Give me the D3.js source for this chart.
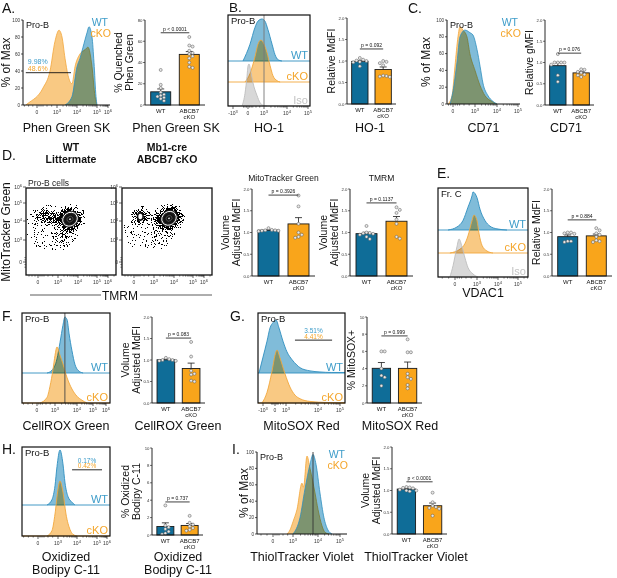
<!DOCTYPE html>
<html>
<head>
<meta charset="utf-8">
<script src="https://cdn.jsdelivr.net/npm/d3@7/dist/d3.min.js"></script>
<style>
  body { margin: 0; background: #fff; }
  svg { font-family: "Liberation Sans", Arial, sans-serif; display: block; }
</style>
</head>
<body>
<svg id="fig" width="617" height="578"></svg>
<script>
// ---- values ----
var groups = ["WT", "ABCB7 cKO"];

// flow histograms, [channel, % of max]; channel 0 = "0", 3 = 10^3, 4 = 10^4 ...
var phenWT = [[3.4,0],[3.75,10],[4.0,45],[4.15,55],[4.3,68],[4.5,85],[4.6,92],[4.75,80],[4.85,50],[4.95,10],[5.0,0]];
var phenKO = [[-0.8,0],[-0.64,2],[0.9,20],[1.95,40],[2.7,75],[3.1,88],[3.25,80],[3.4,55],[3.55,35],[3.75,25],[3.9,45],[4.15,60],[4.4,65],[4.55,68],[4.75,45],[4.9,10],[5.0,0]];
var phenGate = [-0.8, 3.7, 38];
var phenPct = ["9.98%", "48.6%"];

var hoWT  = [[-1.0,0],[0.375,40],[1.31,80],[1.875,95],[2.625,100],[3.04,95],[3.17,75],[3.35,40],[3.48,15],[3.61,3],[3.78,0]];
var hoKO  = [[-0.6,0],[0.375,20],[1.31,60],[1.875,90],[2.44,100],[3.0,90],[3.13,70],[3.26,40],[3.39,15],[3.57,3],[3.7,0]];
var hoIso = [[-1.2,0],[-0.6,30],[-0.2,70],[0,95],[0.19,100],[0.56,80],[0.94,55],[1.69,25],[2.25,8],[2.81,2],[3.13,0]];

var cd71WT = [[-0.4,0],[0,15],[0.55,50],[0.95,80],[1.64,88],[2.3,85],[2.73,82],[3.09,65],[3.23,45],[3.36,25],[3.59,10],[3.82,3],[4.0,0]];
var cd71KO = [[-0.67,0],[-0.13,10],[0.27,45],[0.68,80],[0.95,92],[1.36,88],[1.9,80],[2.3,60],[3.0,40],[3.23,22],[3.45,10],[3.77,3],[4.0,0]];

var vdacWT  = [[-0.33,0],[0.27,8],[1.09,25],[1.77,60],[2.32,90],[2.45,100],[3.0,85],[3.14,55],[3.38,25],[3.62,10],[3.95,3],[4.45,0]];
var vdacKO  = [[-0.24,0],[0.68,10],[1.36,25],[1.77,45],[2.32,85],[2.59,100],[3.0,85],[3.1,50],[3.24,20],[3.48,5],[3.76,0]];
var vdacIso = [[-0.24,0],[-0.09,30],[0.27,80],[0.55,100],[0.95,80],[1.36,50],[1.77,25],[2.45,8],[3.05,0]];

var roxWT = [[1.67,0],[2.5,5],[3.09,25],[3.23,55],[3.36,85],[3.45,100],[3.55,95],[3.64,70],[3.77,40],[3.91,15],[4.06,5],[4.38,0]];
var roxKO = [[0.5,0],[1.67,10],[2.17,30],[2.67,60],[3.0,85],[3.09,100],[3.23,85],[3.36,70],[3.55,45],[3.77,25],[4.0,12],[4.31,5],[4.63,0]];

var soxWT = [[-3.4,0],[-3,30],[-2,60],[-1.25,85],[-0.5,95],[0.27,100],[1.09,85],[2.18,60],[3.03,40],[3.19,25],[3.34,15],[3.44,10],[3.75,4],[4.09,2],[4.6,1],[5.2,1]];
var soxKO = [[-3.1,0],[-2,20],[-0.75,60],[0,90],[0.55,100],[1.36,85],[2.73,55],[3.125,30],[3.28,15],[3.44,8],[3.75,3],[4.41,1],[5.2,0.5]];
var soxGate = [3.28, 4.64, 62];
var soxPct = ["3.51%", "4.41%"];

var bodWT = [[1.35,0],[2.1,10],[2.55,35],[2.85,70],[3.105,100],[3.26,75],[3.37,40],[3.53,15],[3.74,5],[3.89,0]];
var bodKO = [[1.35,0],[2.1,10],[2.55,40],[3.0,85],[3.105,100],[3.26,80],[3.42,40],[3.63,12],[3.79,3],[4.0,0]];
var bodGate = [3.74, 5.5, 64];
var bodPct = ["0.17%", "0.42%"];

var thiolWT = [[3.0,0],[3.28,20],[3.48,55],[3.68,85],[3.8,97],[3.92,85],[4.09,50],[4.27,20],[4.45,5],[4.64,0]];
var thiolKO = [[2.1,0],[2.55,5],[3.0,15],[3.16,30],[3.36,62],[3.42,57],[3.56,95],[3.68,80],[3.88,50],[4.0,30],[4.18,10],[4.32,2],[4.5,0]];

// MitoTracker Green vs TMRM event clouds: [x, y, rx, ry, angle, density] in channel units
var mtgWTPops = [[1.0,4.25,1.5,0.4,0,0.6],[2.5,4.2,1.3,0.32,0,0.45],[3.6,4.1,0.7,0.65,-35,0.95],[3.2,3.2,0.55,0.9,0,0.3],[2.2,3.6,2.4,1.5,0,0.18]];
var mtgKOPops = [[0.95,4.25,1.1,0.45,0,0.75],[2.5,4.2,1.3,0.32,0,0.4],[3.75,4.15,0.7,0.65,-35,0.95],[3.3,3.3,0.55,0.9,0,0.25],[2.2,3.6,2.4,1.5,0,0.15]];
var mtgWTCore = [3.6, 4.1, 0.45, 0.42, -35];
var mtgKOCore = [3.75, 4.15, 0.45, 0.42, -35];
var mtgKOBlob = [0.95, 4.25, 0.42, 0.2];

// per-mouse values for the bar charts
var quenchWT = [33,19,16,12,10,9,8,7,6,4];
var quenchKO = [64,56,55,51,49,48,46,44,40,36,35];
var hoMfiWT = [1.07,1.03,1.01,1.0,0.98,0.97,0.88];
var hoMfiKO = [1.0,0.98,0.95,0.9,0.65,0.63,0.64,0.66];
var cd71MfiWT = [1.2,1.0,1.0,1.0,1.0,0.95,0.7,0.55];
var cd71MfiKO = [0.84,0.83,0.78,0.76,0.72,0.7,0.66];
var mtgWT = [1.1,1.06,1.05,1.05,1.04,1.04,1.03];
var mtgKO = [1.85,1.6,1.2,1.0,0.95,0.9,0.88];
var tmrmWT = [1.15,1.0,0.99,0.98,0.97,0.95,0.9,0.85];
var tmrmKO = [1.58,1.52,1.45,1.3,1.2,0.9,0.86];
var vdacMfiWT = [1.0,1.0,0.98,0.97,0.8,0.78,0.8];
var vdacMfiKO = [1.1,1.05,0.98,0.95,0.9,0.8,0.78,0.82];
var roxMfiWT = [1.05,1.02,1.0,1.0,0.98,0.98];
var roxMfiKO = [1.42,1.08,0.75,0.68,0.66,0.52,0.5];
var soxPosWT = [6.0,6.0,4.0,3.2,3.0,2.0];
var soxPosKO = [7.4,5.9,5.9,3.4,3.0,2.8,2.1,1.7];
var bodPosWT = [3.4,1.1,0.9,0.7,0.4,0.2,0.1];
var bodPosKO = [2.2,1.4,1.2,1.0,0.8,0.6,0.5];
var thiolMfiWT = [1.08,1.07,1.06,1.05,1.02,1.0,1.0,0.98];
var thiolMfiKO = [0.95,0.73,0.65,0.62,0.6,0.58,0.42];

var pValues = ["p < 0.0001","p = 0.092","p = 0.076","p = 0.3926","p = 0.1137","p = 0.884","p = 0.083","p = 0.999","p = 0.737","p < 0.0001"];

// ---- drawing ----
var C = {
  wtBar: "#0f6d98", koBar: "#f9a51b",
  wtFill: "#80bcd9", wtLine: "#2f8fbf", wtText: "#3d9cc9",
  koFill: "#f9c983", koLine: "#f2a73c", koText: "#f4a52a",
  isoFill: "#d8d8d8", isoLine: "#bdbdbd", isoText: "#c4c4c4"
};

var svg = d3.select("#fig");
var defs = svg.append("defs");

function text(g, x, y, s, size, o) {
  o = o || {};
  var t = g.append("text").attr("x", x).attr("y", y).attr("font-size", size)
    .attr("text-anchor", o.anchor || "start").attr("fill", o.fill || "#111").text(s);
  if (o.bold) t.attr("font-weight", "bold");
  if (o.rotate) t.attr("transform", "rotate(-90," + x + "," + y + ")");
  return t;
}

function flowLabel(t, v) {
  if (v === 0) { t.text("0"); return; }
  t.append("tspan").text((v < 0 ? "-" : "") + "10");
  t.append("tspan").attr("dy", -2).attr("font-size", "0.8em").text(Math.abs(v));
}

// biexponential-looking axis: majors + minor ticks
function flowXAxis(g, x, y0, majors) {
  var dom = x.domain(), lo = dom[0], hi = dom[dom.length - 1];
  var minors = [];
  majors.forEach(function (v) {
    if (v >= 3) for (var k = 2; k < 10; k++) { var m = v + Math.log10(k); if (m < hi) minors.push(m); }
  });
  [-0.9, -0.6, -0.3, 0.3, 0.6, 0.9, 1.5, 2.2].forEach(function (m) { if (m > lo) minors.push(m); });
  g.selectAll(null).data(minors).enter().append("line")
    .attr("x1", function (d) { return x(d); }).attr("x2", function (d) { return x(d); })
    .attr("y1", y0).attr("y2", y0 + 1.6).attr("stroke", "#222").attr("stroke-width", 0.6);
  g.selectAll(null).data(majors).enter().append("line")
    .attr("x1", function (d) { return x(d); }).attr("x2", function (d) { return x(d); })
    .attr("y1", y0).attr("y2", y0 + 3).attr("stroke", "#222").attr("stroke-width", 0.7);
  majors.forEach(function (v) {
    var t = g.append("text").attr("x", x(v)).attr("y", y0 + 9).attr("font-size", 5)
      .attr("text-anchor", "middle").attr("fill", "#333");
    flowLabel(t, v);
  });
}

function overlayHist(o) {
  var g = svg.append("g");
  var x = d3.scaleLinear().domain(o.xd).range(o.xr);
  var y = d3.scaleLinear().domain([0, 100]).range([o.bottom, o.top]);
  o.curves.forEach(function (c) {
    g.append("path").datum(c.data)
      .attr("d", d3.area().x(function (d) { return x(d[0]); }).y0(y(0)).y1(function (d) { return y(d[1]); }).curve(d3.curveMonotoneX))
      .attr("fill", c.fill).style("mix-blend-mode", "multiply");
    g.append("path").datum(c.data)
      .attr("d", d3.line().x(function (d) { return x(d[0]); }).y(function (d) { return y(d[1]); }).curve(d3.curveMonotoneX))
      .attr("fill", "none").attr("stroke", c.line).attr("stroke-width", 0.8);
  });
  if (o.vline !== undefined)
    g.append("line").attr("x1", x(o.vline)).attr("x2", x(o.vline)).attr("y1", o.top).attr("y2", o.bottom)
      .attr("stroke", "#333").attr("stroke-width", 0.9);
  if (o.gate) {
    g.append("line").attr("x1", x(o.gate[0])).attr("x2", x(o.gate[1])).attr("y1", y(o.gate[2])).attr("y2", y(o.gate[2]))
      .attr("stroke", "#111").attr("stroke-width", 0.9);
    text(g, x(o.gate[0]) + 2, y(o.gate[2]) - 9, o.pct[0], 7, { fill: C.wtText });
    text(g, x(o.gate[0]) + 2, y(o.gate[2]) - 2, o.pct[1], 7, { fill: C.koText });
  }
  g.append("line").attr("x1", o.left).attr("x2", o.left).attr("y1", o.top).attr("y2", o.bottom).attr("stroke", "#111").attr("stroke-width", 1);
  g.append("line").attr("x1", o.left).attr("x2", o.right).attr("y1", o.bottom).attr("y2", o.bottom).attr("stroke", "#111").attr("stroke-width", 1);
  [0, 20, 40, 60, 80, 100].forEach(function (v) {
    g.append("line").attr("x1", o.left - 2).attr("x2", o.left).attr("y1", y(v)).attr("y2", y(v)).attr("stroke", "#111").attr("stroke-width", 0.7);
    text(g, o.left - 3, y(v) + 1.6, v, 4.6, { anchor: "end", fill: "#333" });
  });
  flowXAxis(g, x, o.bottom, o.ticks);
  text(g, o.left + 3, o.top + 8, "Pro-B", 9);
  text(g, o.right - 2, o.top + 6, "WT", 10.5, { anchor: "end", fill: C.wtText });
  text(g, o.right + 1, o.top + 17, "cKO", 10.5, { anchor: "end", fill: C.koText });
  text(g, o.ylabX, (o.top + o.bottom) / 2, "% of Max", 12, { anchor: "middle", rotate: true });
  text(g, (o.left + o.right) / 2, o.xlabY, o.xlab, 12.5, { anchor: "middle" });
}

function stackedHist(o) {
  var g = svg.append("g");
  var x = d3.scaleLinear().domain(o.xd).range(o.xr);
  o.lanes.forEach(function (l) {
    var yv = function (v) { return l.base - v / 100 * o.laneH; };
    g.append("path").datum(l.data)
      .attr("d", d3.area().x(function (d) { return x(d[0]); }).y0(l.base).y1(function (d) { return yv(d[1]); }).curve(d3.curveMonotoneX))
      .attr("fill", l.fill).style("mix-blend-mode", "multiply");
    g.append("path").datum(l.data)
      .attr("d", d3.line().x(function (d) { return x(d[0]); }).y(function (d) { return yv(d[1]); }).curve(d3.curveMonotoneX))
      .attr("fill", "none").attr("stroke", l.line).attr("stroke-width", 0.9);
    g.append("line").attr("x1", o.left).attr("x2", o.right).attr("y1", l.base).attr("y2", l.base)
      .attr("stroke", l.line).attr("stroke-width", 0.9);
    text(g, o.right - 2, l.base - 2, l.label, 11, { anchor: "end", fill: l.text });
  });
  if (o.vline !== undefined)
    g.append("line").attr("x1", x(o.vline)).attr("x2", x(o.vline)).attr("y1", o.top).attr("y2", o.bottom)
      .attr("stroke", o.vcolor || "#444").attr("stroke-width", 0.9);
  if (o.gate) {
    var gy = o.lanes[0].base - o.gate[2] / 100 * o.laneH;
    var x0 = x(o.gate[0]), x1 = Math.min(x(o.gate[1]), o.right - 3);
    g.append("line").attr("x1", x0).attr("x2", x1).attr("y1", gy).attr("y2", gy).attr("stroke", "#111").attr("stroke-width", 0.9);
    text(g, (x0 + x1) / 2, gy - 7, o.pct[0], 6.5, { anchor: "middle", fill: C.wtText });
    text(g, (x0 + x1) / 2, gy - 1.5, o.pct[1], 6.5, { anchor: "middle", fill: C.koText });
  }
  g.append("rect").attr("x", o.left).attr("y", o.top).attr("width", o.right - o.left).attr("height", o.bottom - o.top)
    .attr("fill", "none").attr("stroke", "#111").attr("stroke-width", 1.2);
  flowXAxis(g, x, o.bottom, o.ticks);
  text(g, o.left + 3, o.top + 9, o.tag, 9.5);
  o.xlab.forEach(function (s, i) {
    text(g, (o.left + o.right) / 2, o.xlabY + i * 13, s, 12.5, { anchor: "middle" });
  });
}

function barChart(o) {
  var g = svg.append("g");
  var y = d3.scaleLinear().domain([0, o.max]).range([o.bottom, o.top]);
  var x = d3.scaleBand().domain(groups).range([o.left, o.right]).paddingInner(0.3).paddingOuter(0.2);
  var sets = [o.wt, o.ko], cols = [C.wtBar, C.koBar];
  var centers = [];
  sets.forEach(function (vals, i) {
    var m = d3.mean(vals), se = d3.deviation(vals) / Math.sqrt(vals.length);
    var cx = x(groups[i]) + x.bandwidth() / 2;
    centers.push(cx);
    g.append("rect").attr("x", x(groups[i])).attr("y", y(m)).attr("width", x.bandwidth()).attr("height", y(0) - y(m))
      .attr("fill", cols[i]).attr("stroke", "#1a1a1a").attr("stroke-width", 0.9);
    g.append("line").attr("x1", cx).attr("x2", cx).attr("y1", y(m)).attr("y2", y(m + se)).attr("stroke", "#1a1a1a").attr("stroke-width", 0.8);
    g.append("line").attr("x1", cx - 3.5).attr("x2", cx + 3.5).attr("y1", y(m + se)).attr("y2", y(m + se)).attr("stroke", "#1a1a1a").attr("stroke-width", 0.8);
    var placed = [], offs = [0, 3.3, -3.3, 6.6, -6.6, 9.9, -9.9];
    vals.slice().sort(function (a, b) { return b - a; }).forEach(function (v) {
      var py = y(v), dx = 0;
      for (var k = 0; k < offs.length; k++) {
        dx = offs[k];
        if (placed.every(function (p) { return Math.hypot(p[0] - dx, p[1] - py) >= 3.1; })) break;
      }
      placed.push([dx, py]);
      g.append("circle").attr("cx", cx + dx).attr("cy", py).attr("r", 1.5)
        .attr("fill", "#e8e8e8").attr("stroke", "#555").attr("stroke-width", 0.5);
    });
  });
  // axes
  g.append("line").attr("x1", o.left).attr("x2", o.left).attr("y1", y(0)).attr("y2", y(o.max)).attr("stroke", "#111").attr("stroke-width", 0.9);
  g.append("line").attr("x1", o.left).attr("x2", o.right).attr("y1", y(0)).attr("y2", y(0)).attr("stroke", "#111").attr("stroke-width", 0.9);
  o.ticks.forEach(function (v) {
    g.append("line").attr("x1", o.left - 2).attr("x2", o.left).attr("y1", y(v)).attr("y2", y(v)).attr("stroke", "#111").attr("stroke-width", 0.6);
    text(g, o.left - 2.5, y(v) + 1.5, o.fmt(v), 4.3, { anchor: "end", fill: "#333" });
  });
  // p-value bracket
  var py = y(o.pAt);
  g.append("line").attr("x1", centers[0]).attr("x2", centers[1]).attr("y1", py).attr("y2", py).attr("stroke", "#111").attr("stroke-width", 0.8);
  text(g, (centers[0] + centers[1]) / 2, py - 1.8, o.p, 5, { anchor: "middle" });
  // category labels
  text(g, centers[0], o.bottom + 8, "WT", 6, { anchor: "middle" });
  text(g, centers[1], o.bottom + 8, "ABCB7", 6, { anchor: "middle" });
  text(g, centers[1], o.bottom + 14, "cKO", 6, { anchor: "middle" });
  var cy = (o.top + o.bottom) / 2;
  o.ylab.forEach(function (s, i) {
    text(g, o.left - 12 - (o.ylab.length - 1 - i) * 11, cy, s, 10.5, { anchor: "middle", rotate: true });
  });
  if (o.title) text(g, (o.left + o.right) / 2, o.top - 8, o.title, 8.5, { anchor: "middle" });
  o.xlab.forEach(function (s, i) {
    text(g, o.xlabX, o.xlabY + i * 13, s, 12.5, { anchor: "middle" });
  });
}

// speckle filter: turns a blurred density shape into a cloud of tiny events
var sp = defs.append("filter").attr("id", "speck").attr("x", "-40%").attr("y", "-40%").attr("width", "180%").attr("height", "180%")
  .attr("color-interpolation-filters", "sRGB");
sp.append("feGaussianBlur").attr("in", "SourceGraphic").attr("stdDeviation", 2.2).attr("result", "b");
sp.append("feTurbulence").attr("type", "fractalNoise").attr("baseFrequency", 1.1).attr("numOctaves", 2).attr("seed", 4).attr("result", "n0");
var stretch = sp.append("feComponentTransfer").attr("in", "n0").attr("result", "n");
stretch.append("feFuncA").attr("type", "linear").attr("slope", 3).attr("intercept", -0.9);
sp.append("feComposite").attr("in", "b").attr("in2", "n").attr("operator", "arithmetic")
  .attr("k1", 0).attr("k2", 1).attr("k3", -1).attr("k4", 0.44).attr("result", "d");
sp.append("feColorMatrix").attr("in", "d").attr("type", "matrix").attr("values", "0 0 0 0 0  0 0 0 0 0  0 0 0 0 0  0 0 0 1 0").attr("result", "m");
sp.append("feComponentTransfer").attr("in", "m").append("feFuncA").attr("type", "discrete").attr("tableValues", "0 1");

function scatterBox(o) {
  var g = svg.append("g");
  var x = d3.scaleLinear().domain([-1.2, 0, 3, 4, 5, 6, 6.4]).range([0, 12, 32, 52, 71, 82, 90].map(function (d) { return o.left + d; }));
  var y = d3.scaleLinear().domain([-1.5, 0, 3, 4, 5, 6]).range([o.bottom, o.bottom - 13, o.bottom - 35, o.bottom - 54, o.bottom - 72, o.bottom - 88]);
  var cid = "clip" + o.id;
  defs.append("clipPath").attr("id", cid).append("rect").attr("x", o.left).attr("y", o.top).attr("width", o.right - o.left).attr("height", o.bottom - o.top);
  var ell = function (p) {
    return {
      cx: x(p[0]), cy: y(p[1]),
      rx: (x(p[0] + p[2]) - x(p[0] - p[2])) / 2,
      ry: (y(p[1] - p[3]) - y(p[1] + p[3])) / 2,
      a: p[4] || 0
    };
  };
  var cloud = g.append("g").attr("clip-path", "url(#" + cid + ")").append("g").attr("filter", "url(#speck)");
  o.pops.forEach(function (p) {
    var e = ell(p);
    cloud.append("ellipse").attr("cx", e.cx).attr("cy", e.cy).attr("rx", e.rx).attr("ry", e.ry)
      .attr("transform", "rotate(" + e.a + "," + e.cx + "," + e.cy + ")").attr("fill", "#000").attr("fill-opacity", p[5]);
  });
  var c = ell(o.core);
  [[1.0, "#2a2a2a", "#111", 0.6], [0.85, "none", "#fff", 0.9], [0.7, "#141414", "#222", 0.5], [0.35, "none", "#777", 0.5], [0.1, "#fff", "none", 0]].forEach(function (r) {
    g.append("ellipse").attr("cx", c.cx).attr("cy", c.cy).attr("rx", c.rx * r[0]).attr("ry", c.ry * r[0])
      .attr("transform", "rotate(" + c.a + "," + c.cx + "," + c.cy + ")")
      .attr("fill", r[1]).attr("stroke", r[2]).attr("stroke-width", r[3]);
  });
  if (o.blob) {
    var b = ell(o.blob);
    g.append("ellipse").attr("cx", b.cx).attr("cy", b.cy).attr("rx", b.rx).attr("ry", b.ry)
      .attr("fill", "#fff").attr("stroke", "#111").attr("stroke-width", 1.6);
  }
  g.append("rect").attr("x", o.left).attr("y", o.top).attr("width", o.right - o.left).attr("height", o.bottom - o.top)
    .attr("fill", "none").attr("stroke", "#111").attr("stroke-width", 1.3);
  flowXAxis(g, x, o.bottom, [0, 3, 4, 5, 6]);
  // y axis ticks on left side
  [0, 3, 4, 5, 6].forEach(function (v) {
    g.append("line").attr("x1", o.left - 3).attr("x2", o.left).attr("y1", y(v)).attr("y2", y(v)).attr("stroke", "#222").attr("stroke-width", 0.7);
    var t = g.append("text").attr("x", o.left - 4).attr("y", y(v) + 1.8).attr("font-size", 5).attr("text-anchor", "end").attr("fill", "#333");
    flowLabel(t, v);
  });
  [0.3, 0.6, -0.3, -0.6].forEach(function (v) {
    g.append("line").attr("x1", o.left - 1.6).attr("x2", o.left).attr("y1", y(v)).attr("y2", y(v)).attr("stroke", "#222").attr("stroke-width", 0.6);
  });
  o.title.forEach(function (s, i) {
    text(svg, (o.left + o.right) / 2, o.titleY + i * 12, s, 10.5, { anchor: "middle", bold: true });
  });
}

// ---------- Row 1 ----------
text(svg, 2, 12.5, "A.", 14);
overlayHist({ left: 23, right: 110, top: 20, bottom: 105, xd: [-1, 0, 3, 4, 5, 6], xr: [23, 37, 57, 77, 97, 108],
  ticks: [0, 3, 4, 5, 6], curves: [{ data: phenKO, fill: C.koFill, line: C.koLine }, { data: phenWT, fill: C.wtFill, line: C.wtLine }],
  gate: phenGate, pct: phenPct, ylabX: 10, xlab: "Phen Green SK", xlabY: 132 });
barChart({ left: 145, right: 205, top: 20, bottom: 105, max: 80, ticks: [0, 20, 40, 60, 80], fmt: d3.format("d"),
  wt: quenchWT, ko: quenchKO, p: pValues[0], pAt: 68, ylab: ["% Quenched", "Phen Green"], xlab: ["Phen Green SK"], xlabX: 176, xlabY: 132 });

text(svg, 229, 12, "B.", 13.5);
stackedHist({ left: 228, right: 310, top: 15, bottom: 106, xd: [-3.6, -3, 0, 3, 4, 5, 5.1], xr: [228, 233, 248, 264, 287, 308, 310],
  ticks: [-3, 0, 3, 4, 5], laneH: 42, tag: "Pro-B", vline: 3, vcolor: "#777",
  lanes: [{ base: 61, data: hoWT, fill: C.wtFill, line: C.wtLine, label: "WT", text: C.wtText },
          { base: 82, data: hoKO, fill: C.koFill, line: C.koLine, label: "cKO", text: C.koText },
          { base: 106, data: hoIso, fill: C.isoFill, line: C.isoLine, label: "Iso", text: C.isoText }],
  xlab: ["HO-1"], xlabY: 132 });
barChart({ left: 347, right: 396, top: 18, bottom: 104, max: 2, ticks: [0, 0.5, 1, 1.5, 2], fmt: d3.format(".1f"),
  wt: hoMfiWT, ko: hoMfiKO, p: pValues[1], pAt: 1.28, ylab: ["Relative MdFI"], xlab: ["HO-1"], xlabX: 370, xlabY: 132 });

text(svg, 408, 12.5, "C.", 14);
overlayHist({ left: 447, right: 520, top: 20, bottom: 104, xd: [-0.8, 0, 3, 4, 5], xr: [447, 453, 475, 497, 518],
  ticks: [0, 3, 4, 5], curves: [{ data: cd71KO, fill: C.koFill, line: C.koLine }, { data: cd71WT, fill: C.wtFill, line: C.wtLine }],
  ylabX: 430, xlab: "CD71", xlabY: 132 });
barChart({ left: 545, right: 594, top: 20, bottom: 105, max: 2, ticks: [0, 0.5, 1, 1.5, 2], fmt: d3.format(".1f"),
  wt: cd71MfiWT, ko: cd71MfiKO, p: pValues[2], pAt: 1.22, ylab: ["Relative gMFI"], xlab: ["CD71"], xlabX: 566, xlabY: 132 });

// ---------- Row 2 ----------
text(svg, 2, 160, "D.", 14);
scatterBox({ id: "wt", left: 26, right: 116, top: 188, bottom: 275, pops: mtgWTPops, core: mtgWTCore, title: ["WT", "Littermate"], titleY: 151 });
scatterBox({ id: "ko", left: 122, right: 212, top: 188, bottom: 275, pops: mtgKOPops, core: mtgKOCore, blob: mtgKOBlob, title: ["Mb1-cre", "ABCB7 cKO"], titleY: 151 });
text(svg, 28, 186, "Pro-B cells", 8.5, { fill: "#222" });
text(svg, 10, 232, "MitoTracker Green", 12, { anchor: "middle", rotate: true });
svg.append("line").attr("x1", 30).attr("x2", 101).attr("y1", 295).attr("y2", 295).attr("stroke", "#333").attr("stroke-width", 0.8);
svg.append("line").attr("x1", 140).attr("x2", 212).attr("y1", 295).attr("y2", 295).attr("stroke", "#333").attr("stroke-width", 0.8);
text(svg, 120, 299.5, "TMRM", 12, { anchor: "middle" });

barChart({ left: 252, right: 315, top: 189, bottom: 276, max: 2, ticks: [0, 0.5, 1, 1.5, 2], fmt: d3.format(".1f"),
  wt: mtgWT, ko: mtgKO, p: pValues[3], pAt: 1.86, ylab: ["Volume", "Adjusted MdFI"], title: "MitoTracker Green", xlab: [], xlabX: 0, xlabY: 0 });
barChart({ left: 350, right: 413, top: 189, bottom: 276, max: 2, ticks: [0, 0.5, 1, 1.5, 2], fmt: d3.format(".1f"),
  wt: tmrmWT, ko: tmrmKO, p: pValues[4], pAt: 1.68, ylab: ["Volume", "Adjusted MdFI"], title: "TMRM", xlab: [], xlabX: 0, xlabY: 0 });

text(svg, 437, 178, "E.", 14);
stackedHist({ left: 438, right: 528, top: 188, bottom: 277, xd: [-0.8, 0, 3, 4, 5, 5.5], xr: [438, 455, 477, 498, 518, 528],
  ticks: [0, 3, 4, 5], laneH: 38, tag: "Fr. C",
  lanes: [{ base: 230, data: vdacWT, fill: C.wtFill, line: C.wtLine, label: "WT", text: C.wtText },
          { base: 253, data: vdacKO, fill: C.koFill, line: C.koLine, label: "cKO", text: C.koText },
          { base: 277, data: vdacIso, fill: C.isoFill, line: C.isoLine, label: "Iso", text: C.isoText }],
  xlab: ["VDAC1"], xlabY: 297 });
barChart({ left: 552, right: 612, top: 189, bottom: 276, max: 2, ticks: [0, 0.5, 1, 1.5, 2], fmt: d3.format(".1f"),
  wt: vdacMfiWT, ko: vdacMfiKO, p: pValues[5], pAt: 1.29, ylab: ["Relative MdFI"], xlab: [], xlabX: 0, xlabY: 0 });

// ---------- Row 3 ----------
text(svg, 2, 321, "F.", 14);
stackedHist({ left: 22, right: 110, top: 313, bottom: 403, xd: [-1, 0, 3, 4, 5, 6, 6.3], xr: [22, 37, 55, 77, 93, 106, 110],
  ticks: [0, 3, 4, 5, 6], laneH: 56, tag: "Pro-B", vline: 3.45,
  lanes: [{ base: 373, data: roxWT, fill: C.wtFill, line: C.wtLine, label: "WT", text: C.wtText },
          { base: 403, data: roxKO, fill: C.koFill, line: C.koLine, label: "cKO", text: C.koText }],
  xlab: ["CellROX Green"], xlabY: 430 });
barChart({ left: 152, right: 205, top: 317, bottom: 403, max: 2, ticks: [0, 0.5, 1, 1.5, 2], fmt: d3.format(".1f"),
  wt: roxMfiWT, ko: roxMfiKO, p: pValues[6], pAt: 1.51, ylab: ["Volume", "Adjusted MdFI"], xlab: ["CellROX Green"], xlabX: 178, xlabY: 430 });

text(svg, 230, 321, "G.", 14);
stackedHist({ left: 258, right: 345, top: 313, bottom: 403, xd: [-3.5, -3, 0, 3, 4, 5, 5.2], xr: [258, 263, 275, 286, 318, 340, 345],
  ticks: [-3, 0, 3, 4, 5], laneH: 53, tag: "Pro-B", gate: soxGate, pct: soxPct,
  lanes: [{ base: 373, data: soxWT, fill: C.wtFill, line: C.wtLine, label: "WT", text: C.wtText },
          { base: 403, data: soxKO, fill: C.koFill, line: C.koLine, label: "cKO", text: C.koText }],
  xlab: ["MitoSOX Red"], xlabY: 430 });
barChart({ left: 367, right: 422, top: 317, bottom: 403, max: 10, ticks: [0, 2, 4, 6, 8, 10], fmt: d3.format("d"),
  wt: soxPosWT, ko: soxPosKO, p: pValues[7], pAt: 7.8, ylab: ["% MitoSOX+"], xlab: ["MitoSOX Red"], xlabX: 400, xlabY: 430 });

// ---------- Row 4 ----------
text(svg, 2, 454, "H.", 14);
stackedHist({ left: 22, right: 110, top: 447, bottom: 536, xd: [-1, 0, 3, 4, 5, 6, 6.3], xr: [22, 38, 58, 77, 97, 107, 110],
  ticks: [0, 3, 4, 5, 6], laneH: 55, tag: "Pro-B", gate: bodGate, pct: bodPct,
  lanes: [{ base: 505, data: bodWT, fill: C.wtFill, line: C.wtLine, label: "WT", text: C.wtText },
          { base: 536, data: bodKO, fill: C.koFill, line: C.koLine, label: "cKO", text: C.koText }],
  xlab: ["Oxidized", "Bodipy C-11"], xlabY: 561 });
barChart({ left: 152, right: 203, top: 448, bottom: 535, max: 10, ticks: [0, 2, 4, 6, 8, 10], fmt: d3.format("d"),
  wt: bodPosWT, ko: bodPosKO, p: pValues[8], pAt: 3.8, ylab: ["% Oxidized", "Bodipy C-11"], xlab: ["Oxidized", "Bodipy C-11"], xlabX: 178, xlabY: 561 });

text(svg, 232, 454, "I.", 14);
overlayHist({ left: 257, right: 347, top: 452, bottom: 534, xd: [-0.8, 0, 3, 4, 5], xr: [257, 273, 293, 318, 340],
  ticks: [0, 3, 4, 5], curves: [{ data: thiolKO, fill: C.koFill, line: C.koLine }, { data: thiolWT, fill: C.wtFill, line: C.wtLine }],
  vline: 3.8, ylabX: 248, xlab: "ThiolTracker Violet", xlabY: 561 });
barChart({ left: 392, right: 447, top: 447, bottom: 534, max: 2, ticks: [0, 0.5, 1, 1.5, 2], fmt: d3.format(".1f"),
  wt: thiolMfiWT, ko: thiolMfiKO, p: pValues[9], pAt: 1.2, ylab: ["Volume", "Adjusted MdFI"], xlab: ["ThiolTracker Violet"], xlabX: 416, xlabY: 561 });
</script>
</body>
</html>
